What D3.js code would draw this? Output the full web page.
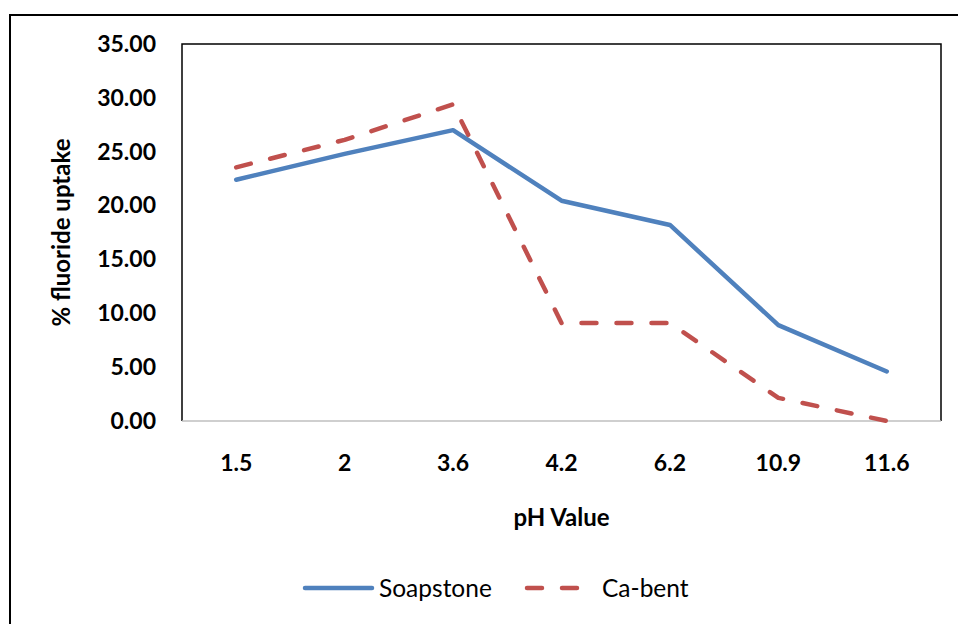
<!DOCTYPE html>
<html>
<head>
<meta charset="utf-8">
<script src="https://cdn.jsdelivr.net/npm/d3@7"></script>
<style>
  html, body { margin: 0; padding: 0; background: #fff; }
  svg { display: block; }
  text { font-family: Lato, "Open Sans", sans-serif; fill: #000; }
</style>
</head>
<body>
<svg id="chart" width="958" height="624"></svg>
<script>
// pH values tested and % fluoride uptake for each adsorbent
const phValues = ["1.5", "2", "3.6", "4.2", "6.2", "10.9", "11.6"];
const soapstone = [22.4, 24.8, 27.0, 20.45, 18.2, 8.9, 4.6];
const caBent = [23.55, 26.1, 29.4, 9.1, 9.1, 2.15, 0.0];
const yTicks = [0, 5, 10, 15, 20, 25, 30, 35];

const seriesList = [
  { name: "Soapstone", values: soapstone, color: "#4F81BD", dash: null },
  { name: "Ca-bent", values: caBent, color: "#C0504D", dash: "15,20" }
];

const svg = d3.select("#chart");
const plot = { left: 182, top: 44, right: 941, bottom: 421 };

// chart frame
svg.append("rect")
  .attr("x", 10).attr("y", 15)
  .attr("width", 1000).attr("height", 700)
  .attr("fill", "none").attr("stroke", "#000").attr("stroke-width", 2);

const x = d3.scaleBand().domain(phValues).range([plot.left, plot.right]);
const y = d3.scaleLinear().domain([0, 35]).range([plot.bottom, plot.top]);

// plot area border (bottom edge drawn as the category axis)
svg.append("path")
  .attr("d", `M${plot.left},${plot.bottom}V${plot.top}H${plot.right}V${plot.bottom}`)
  .attr("fill", "none").attr("stroke", "#000").attr("stroke-width", 1.5);
svg.append("line")
  .attr("x1", plot.left).attr("x2", plot.right)
  .attr("y1", plot.bottom).attr("y2", plot.bottom)
  .attr("stroke", "#bfbfbf").attr("stroke-width", 1.5);

// value axis
const yAxis = svg.append("g")
  .attr("transform", `translate(${plot.left},0)`)
  .call(d3.axisLeft(y).tickValues(yTicks).tickFormat(d3.format(".2f")).tickSize(0).tickPadding(26));
yAxis.select(".domain").remove();
yAxis.selectAll("text")
  .style("font-family", "Lato, sans-serif")
  .style("font-size", "23px").style("font-weight", "bold").attr("fill", "#000");

// category axis
const xAxis = svg.append("g")
  .attr("transform", `translate(0,${plot.bottom})`)
  .call(d3.axisBottom(x).tickSize(0).tickPadding(34));
xAxis.select(".domain").remove();
xAxis.selectAll("text")
  .style("font-family", "Lato, sans-serif")
  .style("font-size", "23px").style("font-weight", "bold").attr("fill", "#000");

// axis titles
svg.append("text")
  .attr("x", (plot.left + plot.right) / 2).attr("y", 526)
  .attr("text-anchor", "middle")
  .style("font-size", "24px").style("font-weight", "bold")
  .text("pH Value");
svg.append("text")
  .attr("transform", `translate(70,${(plot.top + plot.bottom) / 2}) rotate(-90)`)
  .attr("text-anchor", "middle")
  .style("font-size", "24px").style("font-weight", "bold")
  .text("% fluoride uptake");

// series lines
const line = d3.line()
  .x((d, i) => x(phValues[i]) + x.bandwidth() / 2)
  .y(d => y(d));

seriesList.forEach(s => {
  svg.append("path")
    .datum(s.values)
    .attr("d", line)
    .attr("fill", "none")
    .attr("stroke", s.color)
    .attr("stroke-width", 4.5)
    .attr("stroke-linejoin", "round")
    .attr("stroke-linecap", "round")
    .attr("stroke-dasharray", s.dash);
});

// legend
const legend = [
  { x1: 305, x2: 372, tx: 379 },
  { x1: 527, x2: 580, tx: 602 }
];
seriesList.forEach((s, i) => {
  const L = legend[i];
  svg.append("line")
    .attr("x1", L.x1).attr("x2", L.x2)
    .attr("y1", 588).attr("y2", 588)
    .attr("stroke", s.color).attr("stroke-width", 4.5)
    .attr("stroke-linecap", "round")
    .attr("stroke-dasharray", s.dash ? "15,20" : null);
  svg.append("text")
    .attr("x", L.tx).attr("y", 597)
    .style("font-size", "24.5px")
    .text(s.name);
});
</script>
</body>
</html>
